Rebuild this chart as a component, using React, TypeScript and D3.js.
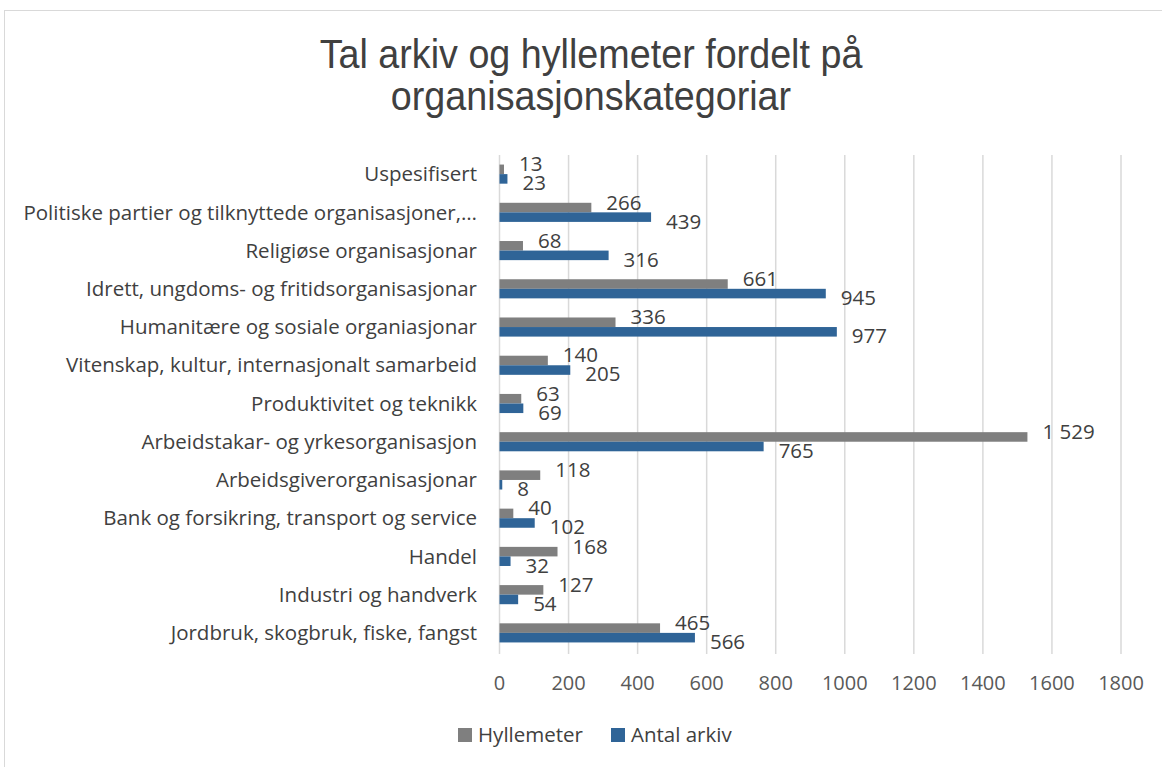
import React from 'react';
import * as d3 from 'd3';

const categories = [
  'Uspesifisert',
  'Politiske partier og tilknyttede organisasjoner,…',
  'Religiøse organisasjonar',
  'Idrett, ungdoms- og fritidsorganisasjonar',
  'Humanitære og sosiale organiasjonar',
  'Vitenskap, kultur, internasjonalt samarbeid',
  'Produktivitet og teknikk',
  'Arbeidstakar- og yrkesorganisasjon',
  'Arbeidsgiverorganisasjonar',
  'Bank og forsikring, transport og service',
  'Handel',
  'Industri og handverk',
  'Jordbruk, skogbruk, fiske, fangst',
];

const hyllemeter = [13, 266, 68, 661, 336, 140, 63, 1529, 118, 40, 168, 127, 465];
const antalArkiv = [23, 439, 316, 945, 977, 205, 69, 765, 8, 102, 32, 54, 566];

const xTicks = [0, 200, 400, 600, 800, 1000, 1200, 1400, 1600, 1800];

const GRAY = '#7f7f7f';
const BLUE = '#2f6497';
const FONT = '"Open Sans", Lato, sans-serif';
const TITLE_FONT = '"Liberation Sans", Arial, sans-serif';

const W = 1162;
const H = 767;
const margin = { left: 499.5, right: 41, top: 155, bottom: 115 };

const nb = d3.formatLocale({ decimal: ',', thousands: '\u00a0', grouping: [3], currency: ['', ''] }).format(',d');

export default function App() {
  const x = d3.scaleLinear().domain([0, 1800]).range([margin.left, W - margin.right]);
  const y = d3.scaleBand().domain(categories).range([margin.top, H - margin.bottom]).paddingInner(0.5).paddingOuter(0.25);
  const bh = y.bandwidth() / 2;

  return (
    <svg width={W} height={H} style={{ position: 'absolute', left: 0, top: 0, background: '#fff' }} fontFamily={FONT}>
      <rect x={4.5} y={10.5} width={1160} height={760} fill="#fff" stroke="#d9d9d9" />
      <g transform="translate(591,0) scale(0.92,1)">
        <text x={0} y={68} textAnchor="middle" fontSize={41} fill="#404040" fontFamily={TITLE_FONT}>
          Tal arkiv og hyllemeter fordelt på
        </text>
        <text x={0} y={110} textAnchor="middle" fontSize={41} fill="#404040" fontFamily={TITLE_FONT}>
          organisasjonskategoriar
        </text>
      </g>

      {xTicks.map(t => (
        <g key={t}>
          <line x1={x(t)} x2={x(t)} y1={margin.top} y2={H - margin.bottom + 2} stroke="#d9d9d9" strokeWidth={1.5} />
          <text x={x(t)} y={690} textAnchor="middle" fontSize={20} fill="#595959">{t}</text>
        </g>
      ))}

      {categories.map((c, i) => {
        const y0 = y(c)!;
        const cy = y0 + y.bandwidth() / 2;
        return (
          <g key={c}>
            <text x={477} y={cy} dy="0.35em" textAnchor="end" fontSize={20.5} fill="#404040">{c}</text>
            <rect x={x(0)} y={y0} width={x(hyllemeter[i]) - x(0)} height={bh} fill={GRAY} />
            <rect x={x(0)} y={y0 + bh} width={x(antalArkiv[i]) - x(0)} height={bh} fill={BLUE} />
            <text x={x(hyllemeter[i]) + 15} y={cy - 10} dy="0.35em" fontSize={20.5} fill="#404040">{nb(hyllemeter[i])}</text>
            <text x={x(antalArkiv[i]) + 15} y={cy + 9} dy="0.35em" fontSize={20.5} fill="#404040">{nb(antalArkiv[i])}</text>
          </g>
        );
      })}

      <g transform="translate(458,735)">
        <rect x={0} y={-7} width={14} height={14} fill={GRAY} />
        <text x={20} y={0} dy="0.35em" fontSize={20.5} fill="#404040">Hyllemeter</text>
        <rect x={153} y={-7} width={14} height={14} fill={BLUE} />
        <text x={173} y={0} dy="0.35em" fontSize={20.5} fill="#404040">Antal arkiv</text>
      </g>
    </svg>
  );
}
